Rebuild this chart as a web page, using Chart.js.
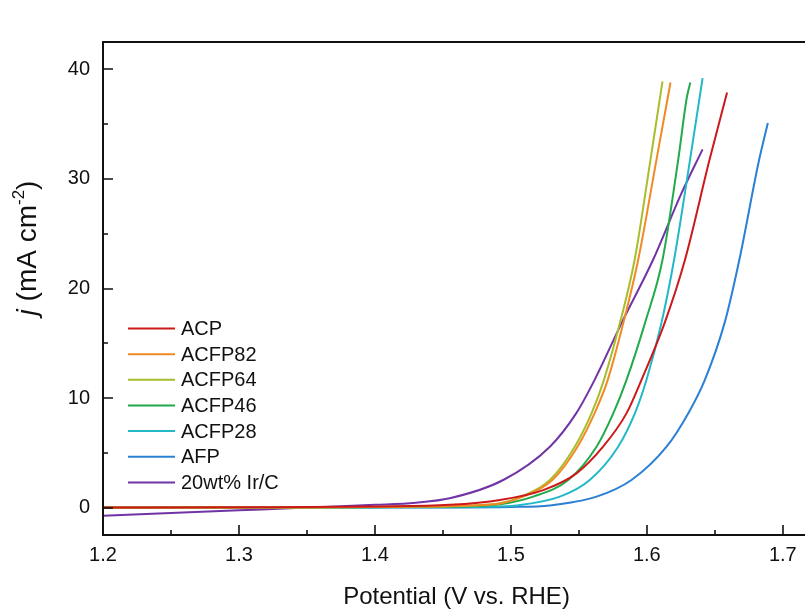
<!DOCTYPE html>
<html>
<head>
<meta charset="utf-8">
<script src="https://cdn.jsdelivr.net/npm/chart.js@4/dist/chart.umd.min.js"></script>
<style>
html,body{margin:0;padding:0;overflow:hidden;background:#fff;width:805px;height:610px}
#wrap{position:relative;width:815px;height:610px}
</style>
</head>
<body>
<div id="wrap"><canvas id="c" width="815" height="610"></canvas></div>
<script>
// ---- data ----
const seriesNames = ['ACP', 'ACFP82', 'ACFP64', 'ACFP46', 'ACFP28', 'AFP', '20wt% Ir/C'];
const seriesColors = ['#cc1a1a', '#f08a24', '#a9bd2c', '#22aa4c', '#22b8c6', '#2a80d4', '#7034a6'];

const acpV    = [1.20, 1.30, 1.40, 1.455, 1.492, 1.5238, 1.548, 1.5678, 1.585, 1.596, 1.6135, 1.628, 1.646, 1.659];
const acpJ    = [0.0, 0.03, 0.1, 0.25, 0.7, 1.6, 3.1, 5.56, 8.6, 11.64, 17.0, 22.6, 31.7, 37.9];

const acfp82V = [1.20, 1.35, 1.42, 1.47, 1.493, 1.509, 1.5305, 1.549, 1.5615, 1.5712, 1.583, 1.5936, 1.607, 1.6174];
const acfp82J = [0.0, 0.02, 0.08, 0.2, 0.4, 1.0, 2.52, 5.56, 8.6, 11.64, 17.0, 22.6, 31.7, 38.8];

const acfp64V = [1.20, 1.35, 1.42, 1.47, 1.4919, 1.5078, 1.5287, 1.547, 1.5593, 1.5684, 1.5805, 1.591, 1.6026, 1.6115];
const acfp64J = [0.0, 0.02, 0.08, 0.2, 0.4, 1.0, 2.52, 5.56, 8.6, 11.64, 17.0, 22.6, 31.7, 38.9];

const acfp46V = [1.20, 1.35, 1.43, 1.47, 1.492, 1.5164, 1.5422, 1.563, 1.5753, 1.585, 1.599, 1.6115, 1.623, 1.6295, 1.632];
const acfp46J = [0.0, 0.02, 0.05, 0.12, 0.3, 1.0, 2.52, 5.56, 8.6, 11.64, 17.0, 22.6, 31.7, 37.5, 38.8];

const acfp28V = [1.20, 1.40, 1.48, 1.504, 1.536, 1.558, 1.5789, 1.5912, 1.5997, 1.611, 1.620, 1.6317, 1.641];
const acfp28J = [0.0, 0.02, 0.08, 0.2, 1.0, 2.52, 5.56, 8.6, 11.64, 17.0, 22.6, 31.7, 39.2];

const afpV    = [1.20, 1.45, 1.50, 1.5287, 1.563, 1.5887, 1.6145, 1.6304, 1.6426, 1.6575, 1.668, 1.6825, 1.689];
const afpJ    = [0.0, 0.02, 0.06, 0.2, 1.0, 2.52, 5.56, 8.6, 11.64, 17.0, 22.6, 31.7, 35.1];

const ircV    = [1.20, 1.25, 1.30, 1.35, 1.40, 1.43, 1.455, 1.4944, 1.5287, 1.548, 1.5615, 1.582, 1.6045, 1.6255, 1.641];
const ircJ    = [-0.75, -0.5, -0.25, 0.0, 0.25, 0.45, 0.85, 2.52, 5.56, 8.6, 11.64, 17.0, 22.6, 28.7, 32.7];

const xTicks = [1.2, 1.3, 1.4, 1.5, 1.6, 1.7];
const xMinorTicks = [1.25, 1.35, 1.45, 1.55, 1.65];
const yTicks = [0, 10, 20, 30, 40];
const yMinorTicks = [5, 15, 25, 35];

const seriesV = [acpV, acfp82V, acfp64V, acfp46V, acfp28V, afpV, ircV];
const seriesJ = [acpJ, acfp82J, acfp64J, acfp46J, acfp28J, afpJ, ircJ];

const FONT = "'Liberation Sans', Arial, sans-serif";

const datasets = seriesNames.map((name, i) => ({
  label: name,
  data: seriesV[i].map((v, k) => ({x: v, y: seriesJ[i][k]})),
  borderColor: seriesColors[i],
  backgroundColor: seriesColors[i],
  borderWidth: 2,
  pointRadius: 0,
  fill: false,
  cubicInterpolationMode: 'monotone'
}));

const decor = {
  id: 'decor',
  afterDraw(chart) {
    const {ctx, chartArea: a, scales: {x, y}} = chart;
    ctx.save();
    ctx.strokeStyle = '#111';
    ctx.lineWidth = 2;
    ctx.strokeRect(a.left, a.top, a.right - a.left, a.bottom - a.top);
    ctx.lineWidth = 1.6;
    ctx.beginPath();
    xTicks.forEach(v => { const px = Math.round(x.getPixelForValue(v)); ctx.moveTo(px, a.bottom); ctx.lineTo(px, a.bottom - 10); });
    xMinorTicks.forEach(v => { const px = Math.round(x.getPixelForValue(v)); ctx.moveTo(px, a.bottom); ctx.lineTo(px, a.bottom - 5); });
    yTicks.forEach(v => { const py = Math.round(y.getPixelForValue(v)); ctx.moveTo(a.left, py); ctx.lineTo(a.left + 10, py); });
    yMinorTicks.forEach(v => { const py = Math.round(y.getPixelForValue(v)); ctx.moveTo(a.left, py); ctx.lineTo(a.left + 5, py); });
    ctx.stroke();

    // legend
    ctx.font = '20px ' + FONT;
    ctx.textBaseline = 'middle';
    ctx.textAlign = 'left';
    seriesNames.forEach((n, i) => {
      const yy = 328.5 + i * 25.65;
      ctx.strokeStyle = seriesColors[i];
      ctx.lineWidth = 2;
      ctx.beginPath(); ctx.moveTo(128, yy); ctx.lineTo(175, yy); ctx.stroke();
      ctx.fillStyle = '#111';
      ctx.fillText(n, 181, yy + 1);
    });

    // y axis title
    ctx.translate(28, 248);
    ctx.rotate(-Math.PI / 2);
    const parts = [
      {t: 'j', f: 'italic 28px ' + FONT, dy: 0},
      {t: ' (mA cm', f: '28px ' + FONT, dy: 0},
      {t: '-2', f: '17px ' + FONT, dy: -9},
      {t: ')', f: '28px ' + FONT, dy: 0}
    ];
    let w = 0;
    parts.forEach(p => { ctx.font = p.f; p.w = ctx.measureText(p.t).width; w += p.w; });
    let cx = -w / 2;
    ctx.fillStyle = '#111';
    parts.forEach(p => { ctx.font = p.f; ctx.fillText(p.t, cx, p.dy); cx += p.w; });
    ctx.restore();
  }
};

new Chart(document.getElementById('c'), {
  type: 'line',
  data: {datasets},
  plugins: [decor],
  options: {
    responsive: false,
    animation: false,
    devicePixelRatio: 1,
    layout: {padding: {top: 42, right: 5, left: 0, bottom: 0}},
    plugins: {legend: {display: false}, tooltip: {enabled: false}},
    scales: {
      x: {
        type: 'linear', min: 1.2, max: 1.72,
        grid: {display: false, drawTicks: false},
        border: {display: false},
        afterBuildTicks: s => { s.ticks = xTicks.map(v => ({value: v})); },
        afterFit: s => { s.height = 75; },
        ticks: {padding: 8, color: '#111', font: {family: FONT, size: 20}, maxRotation: 0, autoSkip: false,
                callback: v => Number(v).toFixed(1)},
        title: {display: true, text: 'Potential (V vs. RHE)', color: '#111',
                font: {family: FONT, size: 24, lineHeight: 1}, padding: {top: 0, bottom: 1}}
      },
      y: {
        type: 'linear', min: -2.5, max: 42.5,
        grid: {display: false, drawTicks: false},
        border: {display: false},
        afterBuildTicks: s => { s.ticks = yTicks.map(v => ({value: v})); },
        afterFit: s => { s.width = 103; },
        ticks: {padding: 13, color: '#111', font: {family: FONT, size: 20}, callback: v => String(v)}
      }
    }
  }
});
</script>
</body>
</html>
